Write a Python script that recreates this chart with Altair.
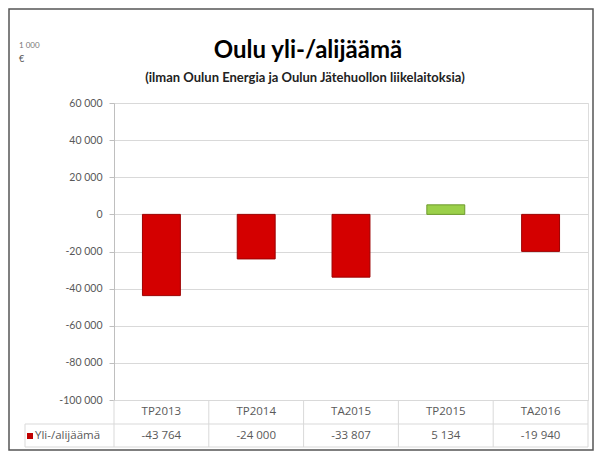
import altair as alt
import pandas as pd

# ---- data ----
categories = ["TP2013", "TP2014", "TA2015", "TP2015", "TA2016"]
values = [-43764, -24000, -33807, 5134, -19940]
series_name = "Yli-/alijäämä"
title_text = "Oulu yli-/alijäämä"
subtitle_text = "(ilman Oulun Energia ja Oulun Jätehuollon liikelaitoksia)"
unit_line1 = "1 000"
unit_line2 = "€"
y_ticks = [60000, 40000, 20000, 0, -20000, -40000, -60000, -80000, -100000]
column_edges = [0, 1, 2, 3, 4, 5]

W, H = 474, 297
FONT = "Lato"
TFONT = "Open Sans"
GRID = "#d9d9d9"
TXT = "#595959"

df = pd.DataFrame({
    "cat": categories,
    "value": values,
    "label": [f"{v:,}".replace(",", " ") for v in values],
    "fill": ["#d40000" if v < 0 else "#9bd04a" for v in values],
    "edge": ["#9c0000" if v < 0 else "#6e9a2e" for v in values],
})
one = pd.DataFrame({"k": [0]})
edges = pd.DataFrame({"b": column_edges})

label_expr = "replace(replace(format(datum.value, ','), ',', ' '), '\u2212', '-')"

bars = alt.Chart(df).mark_bar(strokeWidth=1).encode(
    x=alt.X("cat:N", sort=categories,
            scale=alt.Scale(paddingInner=0.6, paddingOuter=0.3), axis=None),
    y=alt.Y("value:Q",
            scale=alt.Scale(domain=[-100000, 60000], nice=False, zero=False),
            axis=alt.Axis(values=y_ticks, title=None, labelExpr=label_expr,
                          grid=True, gridColor=GRID, domainColor="#bfbfbf",
                          tickColor="#bfbfbf", tickSize=5, labelPadding=7,
                          labelFont=FONT, labelFontSize=10.5, labelColor=TXT)),
    y2=alt.datum(0),
    fill=alt.Fill("fill:N", scale=None),
    stroke=alt.Stroke("edge:N", scale=None),
)

pt = alt.Scale(type="point", padding=0.5)

cat_text = alt.Chart(df).mark_text(font=TFONT, fontSize=11.5, color=TXT, baseline="middle").encode(
    x=alt.X("cat:N", sort=categories, scale=pt, axis=None),
    y=alt.value(H + 12),
    text="cat:N",
)
val_text = alt.Chart(df).mark_text(font=TFONT, fontSize=11.5, color=TXT, baseline="middle").encode(
    x=alt.X("cat:N", sort=categories, scale=pt, axis=None),
    y=alt.value(H + 36),
    text="label:N",
)

vlines = alt.Chart(edges).mark_rule(color=GRID, strokeWidth=1).encode(
    x=alt.X("b:Q", scale=alt.Scale(domain=[0, 5], nice=False, zero=False), axis=None),
    y=alt.value(H),
    y2=alt.value(H + 47),
)
hline1 = alt.Chart(one).mark_rule(color=GRID).encode(
    x=alt.value(-89), x2=alt.value(W), y=alt.value(H + 24))
hline2 = alt.Chart(one).mark_rule(color=GRID).encode(
    x=alt.value(-89), x2=alt.value(W), y=alt.value(H + 47))
lvline = alt.Chart(one).mark_rule(color=GRID).encode(
    x=alt.value(-89), y=alt.value(H + 24), y2=alt.value(H + 47))

legend_sq = alt.Chart(one).mark_square(size=36, color="#c00000", opacity=1).encode(
    x=alt.value(-84), y=alt.value(H + 36))
legend_txt = alt.Chart(one).mark_text(font=TFONT, fontSize=11.5, color=TXT,
                                      align="left", baseline="middle").encode(
    x=alt.value(-79), y=alt.value(H + 36), text=alt.value(series_name))

frame = alt.Chart(one).mark_rect(fill="transparent", stroke="#555555", strokeWidth=1.5).encode(
    x=alt.value(-105), x2=alt.value(W + 5), y=alt.value(-94), y2=alt.value(H + 50))

title = alt.Chart(one).mark_text(font=FONT, fontWeight="bold", fontSize=24, color="#000000",
                                 align="center", baseline="alphabetic").encode(
    x=alt.value(194), y=alt.value(-45), text=alt.value(title_text))
subtitle = alt.Chart(one).mark_text(font=FONT, fontWeight="bold", fontSize=13, color="#222222",
                                    align="center", baseline="alphabetic").encode(
    x=alt.value(191), y=alt.value(-21), text=alt.value(subtitle_text))
unit1 = alt.Chart(one).mark_text(font=FONT, fontSize=8, color="#777777",
                                 align="left", baseline="middle").encode(
    x=alt.value(-95), y=alt.value(-57), text=alt.value(unit_line1))
unit2 = alt.Chart(one).mark_text(font=FONT, fontSize=9, color="#555555",
                                 align="left", baseline="middle").encode(
    x=alt.value(-95), y=alt.value(-44), text=alt.value(unit_line2))

chart = alt.layer(
    frame, vlines, hline1, hline2, lvline, bars, cat_text, val_text,
    legend_sq, legend_txt, title, subtitle, unit1, unit2,
).resolve_scale(x="independent").properties(
    width=W, height=H,
    padding={"left": 106, "top": 95, "right": 6, "bottom": 52},
    autosize=alt.AutoSizeParams(type="none"),
).configure_view(stroke="transparent").configure(background="#ffffff")

chart.save("out.html", embed_options={"renderer": "svg", "actions": False})
